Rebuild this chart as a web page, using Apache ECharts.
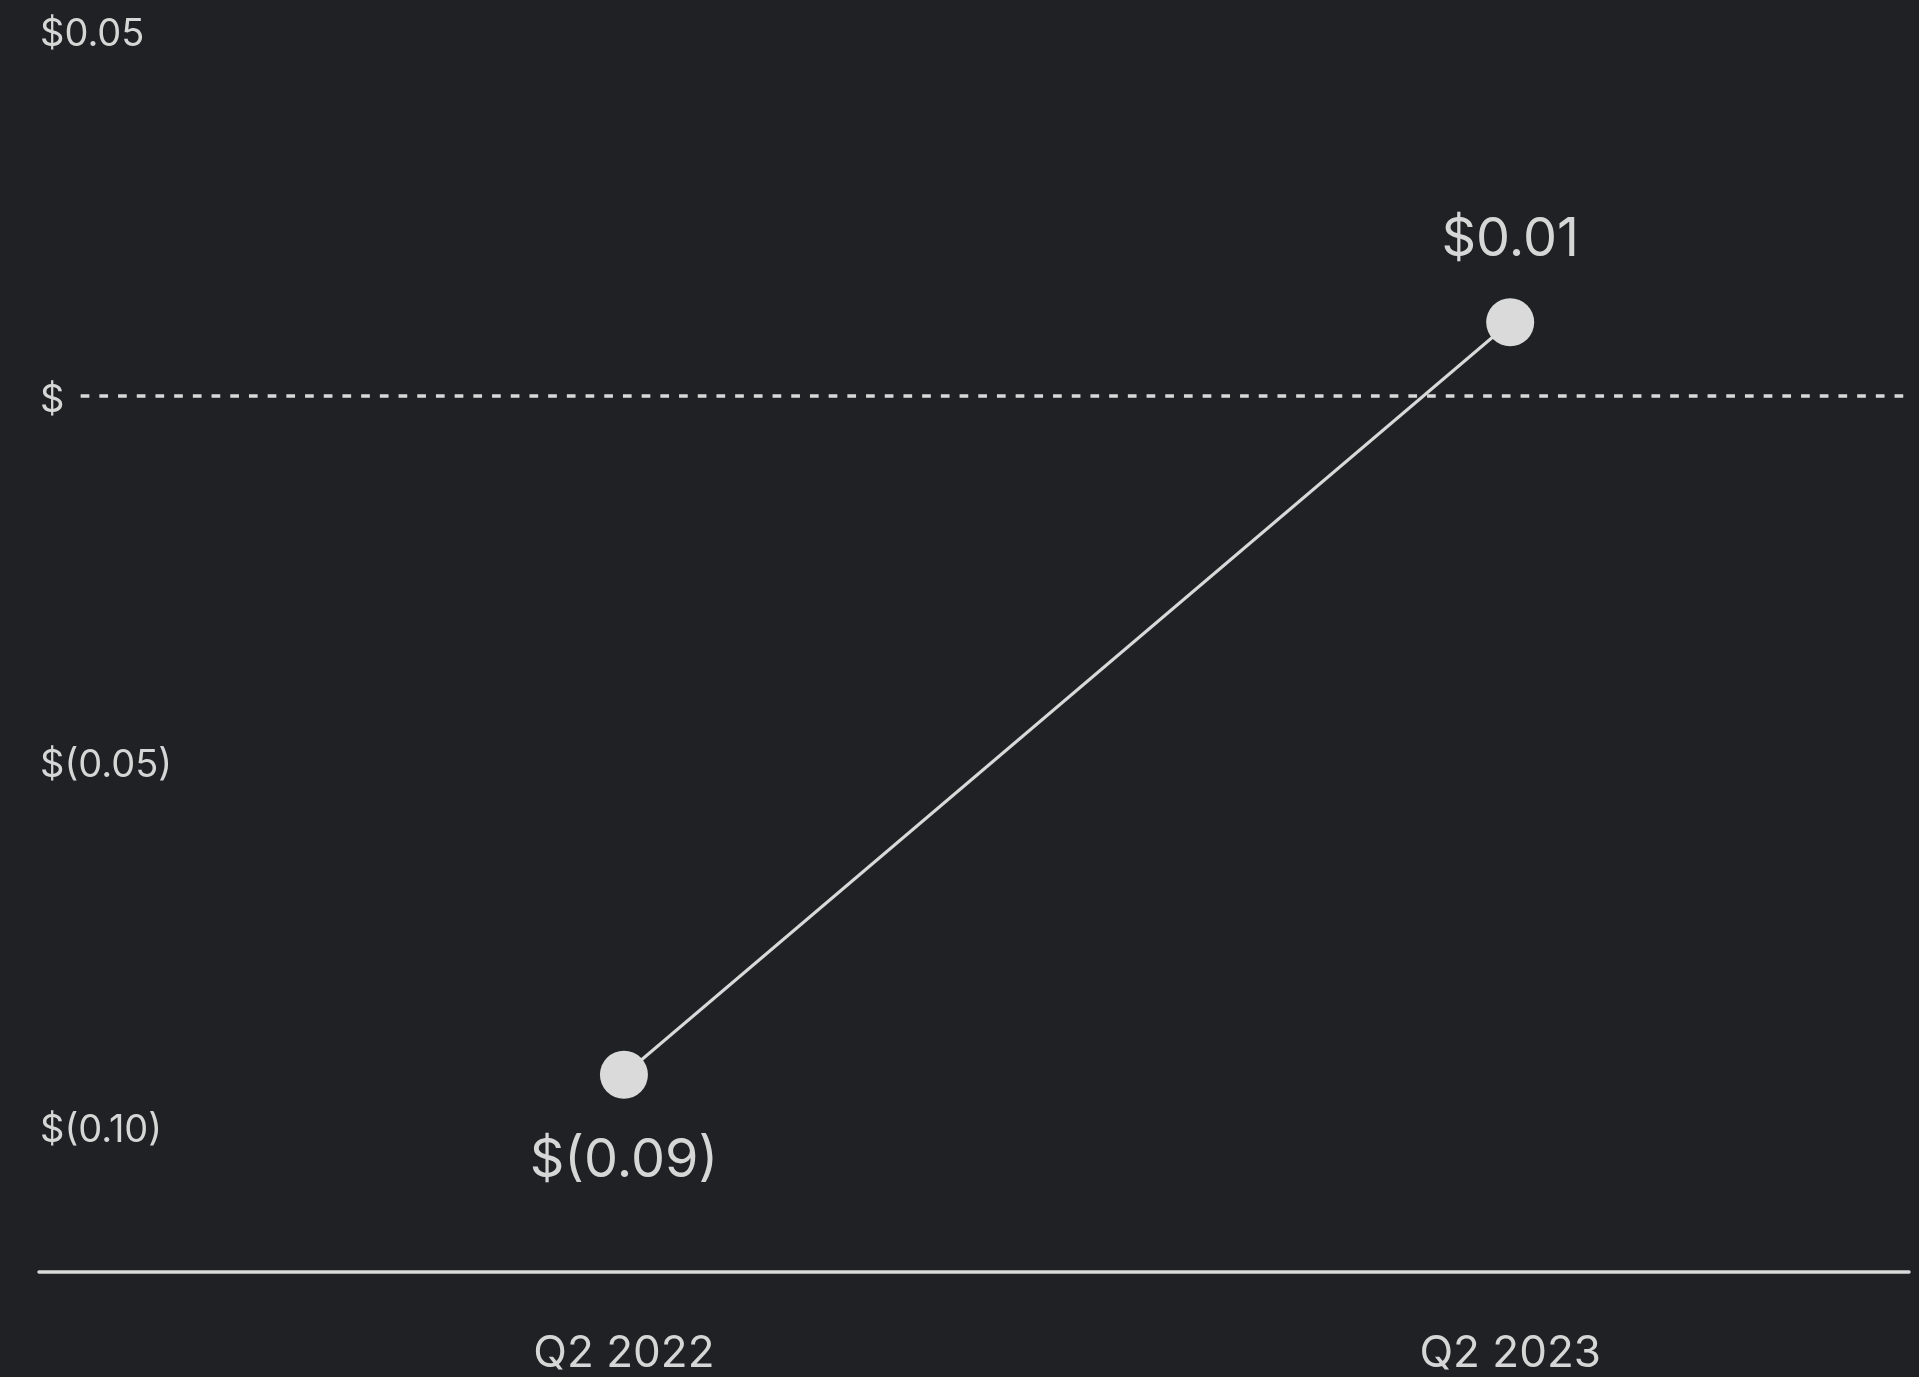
<!DOCTYPE html>
<html>
<head>
<meta charset="utf-8">
<script src="https://cdn.jsdelivr.net/npm/echarts@6/dist/echarts.min.js"></script>
<style>
  html, body { margin: 0; padding: 0; background: #1f2124; }
  #chart { width: 1919px; height: 1377px; }
</style>
</head>
<body>
<div id="chart"></div>
<script>
// ---- data ----
const categories = ['Q2 2022', 'Q2 2023'];
const epsValues = [-0.093, 0.01];
const yTickValues = [0.05, 0, -0.05, -0.10];
const yMin = -0.12;
const yMax = 0.05;

// ---- helpers ----
function money(v) {
  const r = Math.round(v * 100) / 100;
  if (Math.abs(r) < 1e-9) return '$';
  if (r < 0) return '$(' + Math.abs(r).toFixed(2) + ')';
  return '$' + r.toFixed(2);
}

const TEXT = '#d6d6d6';
const LINE = '#d9d9d9';
const FONT = 'Inter, Roboto, sans-serif';

const seriesData = epsValues.map((v, i) => ({
  value: [i, v],
  label: {
    show: true,
    position: v < 0 ? 'bottom' : 'top',
    distance: v < 0 ? 35 : 31,
    formatter: () => money(v),
    color: TEXT,
    fontSize: 54,
    fontFamily: FONT
  }
}));

const chart = echarts.init(document.getElementById('chart'), null, { renderer: 'canvas' });
chart.setOption({
  backgroundColor: '#1f2124',
  animation: false,
  grid: { left: 39, right: 10, top: 30, bottom: 105, containLabel: false },
  xAxis: {
    type: 'value',
    min: -0.66,
    max: 1.45,
    axisLine: { show: true, onZero: false, lineStyle: { color: LINE, width: 3.5 } },
    axisTick: { show: false },
    splitLine: { show: false },
    axisLabel: {
      customValues: categories.map((c, i) => i),
      formatter: v => categories[Math.round(v)] || '',
      color: TEXT,
      fontSize: 44,
      fontFamily: FONT,
      margin: 60
    }
  },
  yAxis: {
    type: 'value',
    min: yMin,
    max: yMax,
    axisLine: { show: false },
    axisTick: { show: false },
    splitLine: { show: false },
    axisLabel: {
      inside: true,
      margin: 1,
      customValues: yTickValues,
      formatter: v => '{v|' + money(v) + '}',
      rich: {
        v: {
          color: TEXT,
          fontSize: 38,
          fontFamily: FONT,
          padding: [10, 0, 0, 0]
        }
      }
    }
  },
  series: [{
    type: 'line',
    data: seriesData,
    symbol: 'circle',
    symbolSize: 48,
    lineStyle: { color: LINE, width: 3 },
    itemStyle: { color: '#dadada' },
    z: 5,
    markLine: {
      silent: true,
      symbol: ['none', 'none'],
      label: { show: false },
      lineStyle: { color: LINE, width: 3.5, type: [8.7, 10] },
      z: 1,
      data: [[{ coord: [-0.613, 0] }, { coord: [1.4436, 0] }]]
    }
  }]
});
</script>
</body>
</html>
